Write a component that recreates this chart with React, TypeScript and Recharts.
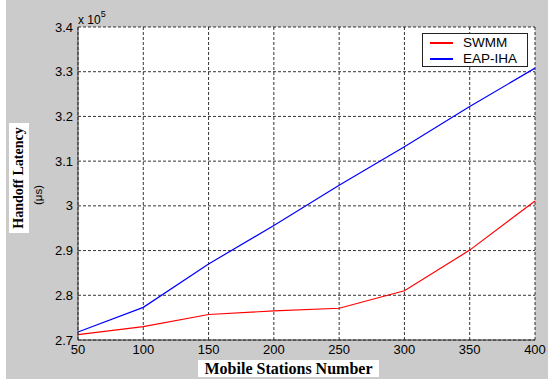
import React from 'react'
import { LineChart, Line, XAxis, YAxis, CartesianGrid } from 'recharts'

// values in units of 10^5 µs
const stations = [50, 100, 150, 200, 250, 300, 350, 400]
const swmm = [2.712, 2.73, 2.757, 2.765, 2.771, 2.81, 2.901, 3.011]
const eapIha = [2.718, 2.773, 2.87, 2.956, 3.046, 3.132, 3.222, 3.308]
const xTicks = [50, 100, 150, 200, 250, 300, 350, 400]
const yTicks = [2.7, 2.8, 2.9, 3.0, 3.1, 3.2, 3.3, 3.4]

const data = stations.map((n, i) => ({ n, swmm: swmm[i], eap: eapIha[i] }))

const SANS = "'Liberation Sans', Arial, sans-serif"
const SERIF = "'Liberation Serif', 'Times New Roman', serif"
const BG = '#cbcbcb'

const series = [
  { key: 'swmm', name: 'SWMM', color: '#ff0000' },
  { key: 'eap', name: 'EAP-IHA', color: '#0000ff' },
]

function LegendBox() {
  return (
    <div
      style={{
        position: 'absolute',
        left: 422,
        top: 33,
        width: 104,
        height: 32,
        background: '#fff',
        border: '1px solid #222',
        fontFamily: SANS,
        fontSize: 13.5,
        color: '#000',
      }}
    >
      {series.map((s, i) => (
        <div key={s.key} style={{ position: 'absolute', left: 0, top: 1 + i * 16, height: 16, display: 'flex', alignItems: 'center' }}>
          <div style={{ width: 23, height: 1.3, background: s.color, marginLeft: 7 }} />
          <span style={{ marginLeft: 10, lineHeight: '16px', whiteSpace: 'nowrap' }}>{s.name}</span>
        </div>
      ))}
    </div>
  )
}

export default function App() {
  return (
    <div style={{ position: 'absolute', left: 0, top: 0, width: 548, height: 379, background: '#fff' }}>
      <div style={{ position: 'absolute', left: 6, top: 0, width: 542, height: 379, background: BG }} />
      <div style={{ position: 'absolute', left: 0, top: 0 }}>
        <LineChart width={548} height={379} data={data} margin={{ top: 27, right: 13, left: 18, bottom: 9 }}>
          <CartesianGrid stroke="#000" strokeWidth={0.8} strokeDasharray="3 2" fill="#fff" />
          <XAxis
            dataKey="n"
            type="number"
            domain={[50, 400]}
            ticks={xTicks}
            height={30}
            tickLine={false}
            tickSize={0}
            tickMargin={5}
            axisLine={{ stroke: '#333', strokeWidth: 1 }}
            tick={{ fill: '#000', fontSize: 13, fontFamily: SANS }}
            interval={0}
          />
          <YAxis
            type="number"
            domain={[2.7, 3.4]}
            ticks={yTicks}
            width={60}
            tickLine={false}
            tickSize={0}
            tickMargin={5}
            axisLine={{ stroke: '#333', strokeWidth: 1 }}
            tick={{ fill: '#000', fontSize: 13, fontFamily: SANS }}
            tickFormatter={(v: number) => String(Number(v.toFixed(1)))}
            interval={0}
          />
          {series.map((s) => (
            <Line
              key={s.key}
              type="linear"
              dataKey={s.key}
              name={s.name}
              stroke={s.color}
              strokeWidth={1.2}
              dot={false}
              isAnimationActive={false}
            />
          ))}
        </LineChart>
      </div>

      <LegendBox />

      {/* exponent */}
      <div style={{ position: 'absolute', left: 78, top: 9, fontFamily: SANS, fontSize: 12, color: '#000', lineHeight: '14px' }}>
        x 10<sup style={{ fontSize: 9, position: 'relative', top: -2 }}>5</sup>
      </div>

      {/* x label */}
      <div
        style={{
          position: 'absolute',
          left: 198,
          top: 360,
          width: 181,
          height: 17,
          background: '#fff',
          fontFamily: SERIF,
          fontWeight: 'bold',
          fontSize: 16,
          lineHeight: '17px',
          textAlign: 'center',
          color: '#000',
        }}
      >
        Mobile Stations Number
      </div>

      {/* y label */}
      <div
        style={{
          position: 'absolute',
          left: 19 - 55,
          top: 178 - 10,
          width: 110,
          height: 20,
          background: '#fff',
          transform: 'rotate(-90deg)',
          fontFamily: SERIF,
          fontWeight: 'bold',
          fontSize: 14,
          lineHeight: '20px',
          textAlign: 'center',
          color: '#000',
        }}
      >
        Handoff Latency
      </div>
      <div
        style={{
          position: 'absolute',
          left: 37.5 - 15,
          top: 195 - 7,
          width: 30,
          height: 14,
          transform: 'rotate(-90deg)',
          fontFamily: SANS,
          fontSize: 11.5,
          lineHeight: '14px',
          textAlign: 'center',
          color: '#000',
        }}
      >
        (μs)
      </div>
    </div>
  )
}
